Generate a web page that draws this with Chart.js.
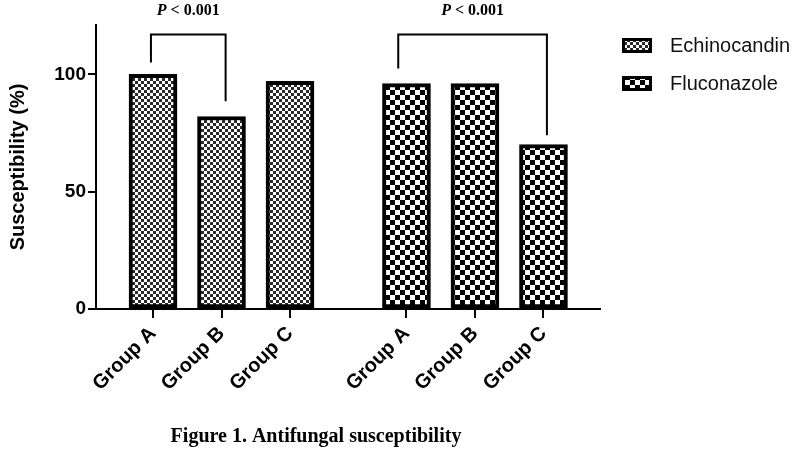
<!DOCTYPE html>
<html>
<head>
<meta charset="utf-8">
<script src="https://cdn.jsdelivr.net/npm/chart.js@4"></script>
<style>
  html, body { margin: 0; padding: 0; background: #fff; }
  #wrap { width: 800px; height: 461px; }
</style>
</head>
<body>
<div id="wrap"><canvas id="chart" width="800" height="461"></canvas></div>
<script>
// data
const groups = ['Group A', 'Group B', 'Group C'];
const echinocandin = [100, 82, 97];
const fluconazole = [96, 96, 70];
// positions of the two clusters on the linear x scale
const echinoPos = [1, 2, 3];
const flucoPos = [4.7, 5.7, 6.7];
const yTicks = [0, 50, 100];
// significance brackets (data units)
const brackets = [
  { x1: 0.97, x2: 2.06, top: 117, left: 105, right: 88.5, label: '< 0.001' },
  { x1: 4.58, x2: 6.75, top: 117, left: 102.5, right: 74, label: '< 0.001' }
];

function makePattern(cell, dark) {
  let c = document.createElement('canvas');
  c.width = cell * 2; c.height = cell * 2;
  let g = c.getContext('2d');
  g.fillStyle = '#fff';
  g.fillRect(0, 0, c.width, c.height);
  g.fillStyle = dark;
  g.fillRect(0, 0, cell, cell);
  g.fillRect(cell, cell, cell, cell);
  return document.getElementById('chart').getContext('2d').createPattern(c, 'repeat');
}

const echinoFill = makePattern(3, '#2a2a2a');
const flucoFill = makePattern(5, '#000');

const allPos = echinoPos.concat(flucoPos);
const allLabels = groups.concat(groups);

// brackets + P values
const bracketPlugin = {
  id: 'brackets',
  afterDatasetsDraw(chart) {
    let ctx = chart.ctx;
    let xs = chart.scales.x, ys = chart.scales.y;
    ctx.save();
    ctx.strokeStyle = '#000';
    ctx.lineWidth = 2;
    brackets.forEach(b => {
      let xa = xs.getPixelForValue(b.x1), xb = xs.getPixelForValue(b.x2);
      let yt = ys.getPixelForValue(b.top);
      ctx.beginPath();
      ctx.moveTo(xa, ys.getPixelForValue(b.left));
      ctx.lineTo(xa, yt);
      ctx.lineTo(xb, yt);
      ctx.lineTo(xb, ys.getPixelForValue(b.right));
      ctx.stroke();

      let fi = 'italic bold 16px "Liberation Serif", "Times New Roman", serif';
      let fb = 'bold 16px "Liberation Serif", "Times New Roman", serif';
      ctx.font = fi;
      let wP = ctx.measureText('P ').width;
      ctx.font = fb;
      let wR = ctx.measureText(b.label).width;
      let x0 = (xa + xb) / 2 - (wP + wR) / 2;
      ctx.fillStyle = '#000';
      ctx.textBaseline = 'middle';
      ctx.textAlign = 'left';
      ctx.font = fi;
      ctx.fillText('P ', x0, yt - 24);
      ctx.font = fb;
      ctx.fillText(b.label, x0 + wP, yt - 24);
    });
    ctx.restore();
  }
};

// legend on the right and caption below
const extrasPlugin = {
  id: 'extras',
  afterDraw(chart) {
    let ctx = chart.ctx;
    ctx.save();
    chart.data.datasets.forEach((ds, i) => {
      let y = 38 + i * 38;
      ctx.fillStyle = ds.backgroundColor;
      ctx.fillRect(622, y, 30, 15);
      ctx.strokeStyle = '#000';
      ctx.lineWidth = 3;
      ctx.strokeRect(623.5, y + 1.5, 27, 12);
      ctx.fillStyle = '#111';
      ctx.font = '20px "Liberation Sans", Arial, sans-serif';
      ctx.textBaseline = 'middle';
      ctx.textAlign = 'left';
      ctx.fillText(ds.label, 670, y + 8);
    });
    ctx.font = 'bold 20px "Liberation Serif", "Times New Roman", serif';
    ctx.textAlign = 'center';
    ctx.textBaseline = 'middle';
    ctx.fillStyle = '#000';
    ctx.fillText('Figure 1. Antifungal susceptibility', 316, 437);
    ctx.restore();
  }
};

new Chart(document.getElementById('chart'), {
  type: 'bar',
  data: {
    datasets: [
      {
        label: 'Echinocandin',
        data: echinoPos.map((x, i) => ({ x: x, y: echinocandin[i] })),
        backgroundColor: echinoFill,
        borderColor: '#000',
        borderWidth: 4,
        borderSkipped: false,
        barThickness: 48,
        grouped: false
      },
      {
        label: 'Fluconazole',
        data: flucoPos.map((x, i) => ({ x: x, y: fluconazole[i] })),
        backgroundColor: flucoFill,
        borderColor: '#000',
        borderWidth: 4,
        borderSkipped: false,
        barThickness: 48,
        grouped: false
      }
    ]
  },
  options: {
    responsive: false,
    animation: false,
    layout: { padding: { top: 25, right: 200, left: 0, bottom: 0 } },
    plugins: {
      legend: { display: false },
      tooltip: { enabled: false }
    },
    scales: {
      x: {
        type: 'linear',
        offset: false,
        min: 0.168,
        max: 7.525,
        afterFit(scale) { scale.height = 152; },
        afterBuildTicks(scale) { scale.ticks = allPos.map(v => ({ value: v })); },
        grid: { display: true, offset: false, drawOnChartArea: false, drawTicks: true, tickLength: 9, color: '#000', lineWidth: 2 },
        border: { color: '#000', width: 2 },
        ticks: {
          autoSkip: false,
          minRotation: 45,
          maxRotation: 45,
          padding: 4,
          color: '#000',
          font: { family: '"Liberation Sans", Arial, sans-serif', size: 20, weight: 'bold' },
          callback: (v, i) => allLabels[i]
        }
      },
      y: {
        min: 0,
        max: 121,
        afterFit(scale) { scale.width = 96; },
        afterBuildTicks(scale) { scale.ticks = yTicks.map(v => ({ value: v })); },
        grid: { display: true, drawOnChartArea: false, drawTicks: true, tickLength: 8, color: '#000', lineWidth: 2 },
        border: { color: '#000', width: 2 },
        ticks: {
          padding: 2,
          color: '#000',
          font: { family: '"Liberation Sans", Arial, sans-serif', size: 19, weight: 'bold' }
        },
        title: {
          display: true,
          text: 'Susceptibility (%)',
          color: '#000',
          padding: { top: 6, bottom: 0 },
          font: { family: '"Liberation Sans", Arial, sans-serif', size: 20, weight: 'bold' }
        }
      }
    }
  },
  plugins: [bracketPlugin, extrasPlugin]
});
</script>
</body>
</html>
